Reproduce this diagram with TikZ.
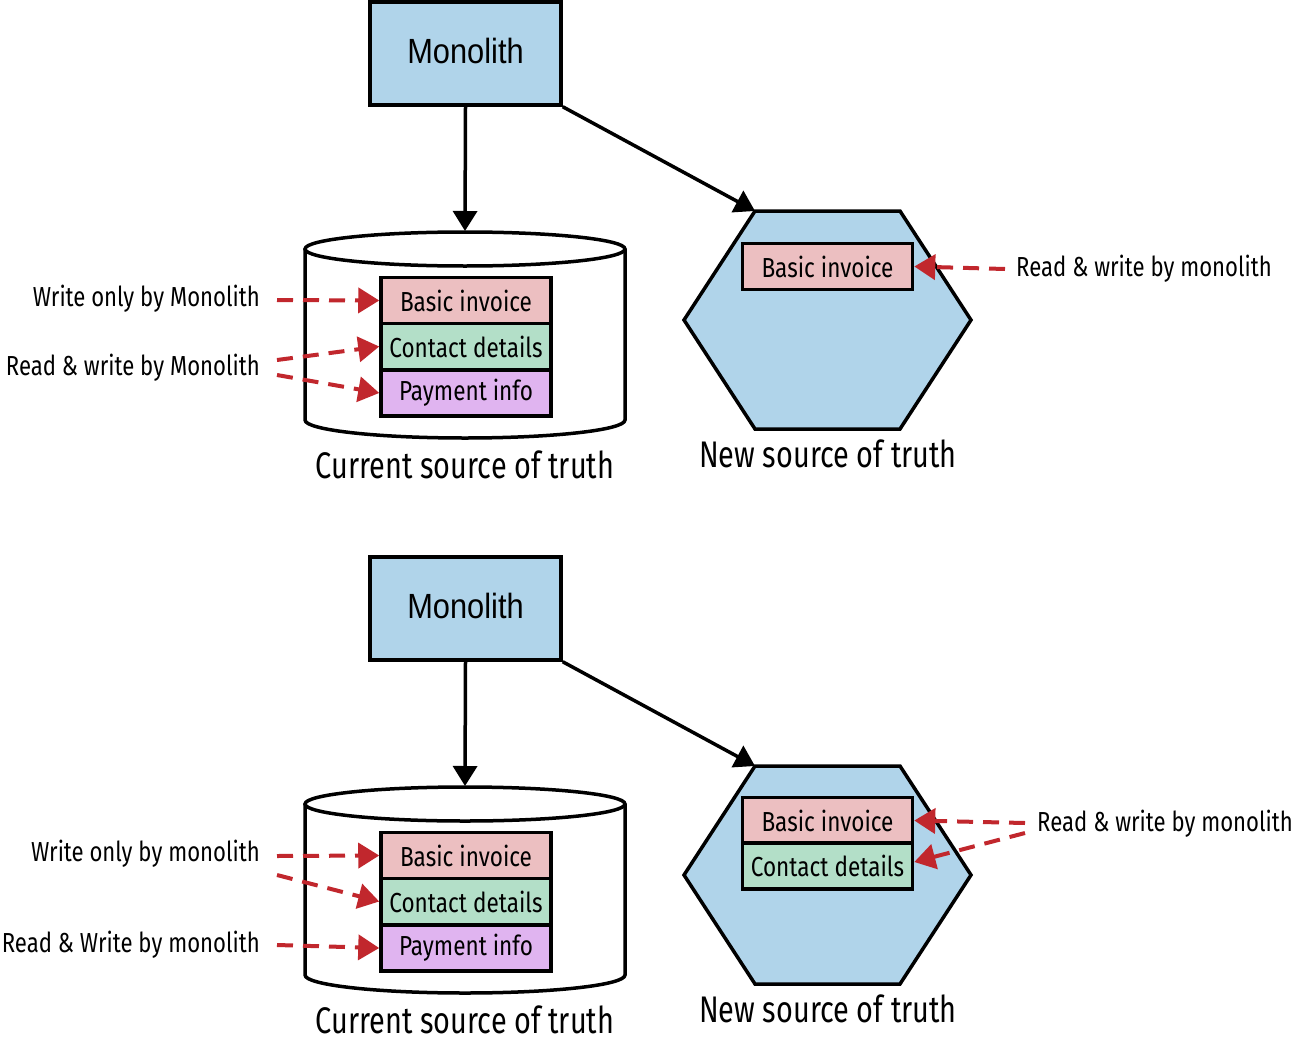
\documentclass[tikz,border=0pt]{standalone}
\usepackage{fontspec}
\setmainfont{Fira Sans}[FakeStretch=0.82]
\newfontfamily\capfam{Fira Sans}[FakeStretch=0.78]
\newfontfamily\lblfam{Fira Sans}[FakeStretch=0.805]
\newfontfamily\monofam{Liberation Sans}[FakeStretch=0.88]
\usetikzlibrary{arrows.meta}
\definecolor{bluef}{RGB}{176,212,234}
\definecolor{pinkf}{RGB}{236,191,193}
\definecolor{greenf}{RGB}{179,223,200}
\definecolor{purplef}{RGB}{224,180,240}
\definecolor{redc}{RGB}{193,39,45}
\begin{document}
\begin{tikzpicture}[x=1pt,y=-1pt,
  blk/.style={line width=3.5pt,-{Triangle[length=20pt,width=24pt]}},
  rarrow/.style={draw=redc,line width=4pt,dash pattern=on 16pt off 10pt,-{Triangle[length=21pt,width=25pt]},redc},
  monobox/.style={draw,fill=bluef,line width=3.5pt,minimum width=191pt,minimum height=103pt,inner sep=0pt,font=\monofam\fontsize{35}{40}\selectfont},
  stackbox/.style={draw,line width=3.5pt,minimum width=170pt,minimum height=46pt,inner sep=0pt,font=\fontsize{27.5}{30}\selectfont},
  lbl/.style={inner sep=0pt,font=\lblfam\fontsize{27.5}{30}\selectfont},
  captxt/.style={inner sep=0pt,font=\capfam\fontsize{37}{40}\selectfont},
  shapeline/.style={line width=3.5pt,line join=miter}
]
\useasboundingbox (0,0) rectangle (1298,1041);

% ================= TOP =================
\node[monobox] (mono1) at (465.5,53.5) {\raisebox{5pt}{Monolith}};
% cylinder
\fill[white] (305,249) -- (305,420) arc[start angle=180,end angle=0,x radius=160,y radius=18] -- (625,249) -- cycle;
\draw[shapeline] (305,249) -- (305,420) arc[start angle=180,end angle=0,x radius=160,y radius=18] -- (625,249);
\draw[shapeline,fill=white] (465,249) ellipse[x radius=160,y radius=17];
\coordinate (cyl1top) at (465,231);
% hexagon
\draw[shapeline,fill=bluef] (755,211) coordinate (h1a) -- (900,211) -- (971,320) -- (900,429) -- (755,429) -- (684,320) -- cycle;
% arrows
\draw[blk] (mono1.south) -- (cyl1top);
\draw[blk] (mono1.south east) -- (h1a);
% stack
\node[stackbox,fill=pinkf] (bi1) at (466,300.5) {Basic invoice};
\node[stackbox,fill=greenf] (cd1) at (466,346.5) {Contact details};
\node[stackbox,fill=purplef] (pi1) at (466,393) {Payment info};
\node[stackbox,fill=pinkf] (nbi1) at (827.5,266.5) {Basic invoice};
% captions
\node[captxt] (cap1) at (465,465) {Current source of truth};
\node[captxt] (ncap1) at (828,454) {New source of truth};
% labels
\node[lbl,anchor=east] (l1a) at (260,299) {Write only by Monolith};
\node[lbl,anchor=east] (l1b) at (260,368) {Read \& write by Monolith};
\node[lbl,anchor=west] (r1) at (1016,269) {Read \& write by monolith};
\coordinate (s1a) at (277,300);
\coordinate (s1b) at (277,360);
\coordinate (s1c) at (277,375);
\coordinate (t1) at (1005,269);
\draw[rarrow] (s1a) -- (bi1.west);
\draw[rarrow] (s1b) -- (cd1.west);
\draw[rarrow] (s1c) -- (pi1.west);
\draw[rarrow] (t1) -- (nbi1.east);

% ================= BOTTOM =================
\node[monobox] (mono2) at (465.5,608.5) {\raisebox{5pt}{Monolith}};
\fill[white] (305,804) -- (305,975) arc[start angle=180,end angle=0,x radius=160,y radius=18] -- (625,804) -- cycle;
\draw[shapeline] (305,804) -- (305,975) arc[start angle=180,end angle=0,x radius=160,y radius=18] -- (625,804);
\draw[shapeline,fill=white] (465,804) ellipse[x radius=160,y radius=17];
\coordinate (cyl2top) at (465,786);
\draw[shapeline,fill=bluef] (755,766) coordinate (h2a) -- (900,766) -- (971,875) -- (900,984) -- (755,984) -- (684,875) -- cycle;
\draw[blk] (mono2.south) -- (cyl2top);
\draw[blk] (mono2.south east) -- (h2a);
\node[stackbox,fill=pinkf] (bi2) at (466,855.5) {Basic invoice};
\node[stackbox,fill=greenf] (cd2) at (466,901.5) {Contact details};
\node[stackbox,fill=purplef] (pi2) at (466,948) {Payment info};
\node[stackbox,fill=pinkf] (nbi2) at (827.5,820.5) {Basic invoice};
\node[stackbox,fill=greenf] (ncd2) at (827.5,866) {Contact details};
\node[captxt] (cap2) at (465,1020) {Current source of truth};
\node[captxt] (ncap2) at (828,1009) {New source of truth};
\node[lbl,anchor=east] (l2a) at (260,854) {Write only by monolith};
\node[lbl,anchor=east] (l2b) at (260,945) {Read \& Write by monolith};
\node[lbl,anchor=west] (r2) at (1037,824) {Read \& write by monolith};
\coordinate (s2a) at (277,856);
\coordinate (s2b) at (277,875);
\coordinate (s2c) at (277,945);
\coordinate (t2a) at (1025,823);
\coordinate (t2b) at (1025,833);
\draw[rarrow] (s2a) -- (bi2.west);
\draw[rarrow] (s2b) -- (cd2.west);
\draw[rarrow] (s2c) -- (pi2.west);
\draw[rarrow] (t2a) -- (nbi2.east);
\draw[rarrow] (t2b) -- ([yshift=4pt]ncd2.east);
\end{tikzpicture}
\end{document}
